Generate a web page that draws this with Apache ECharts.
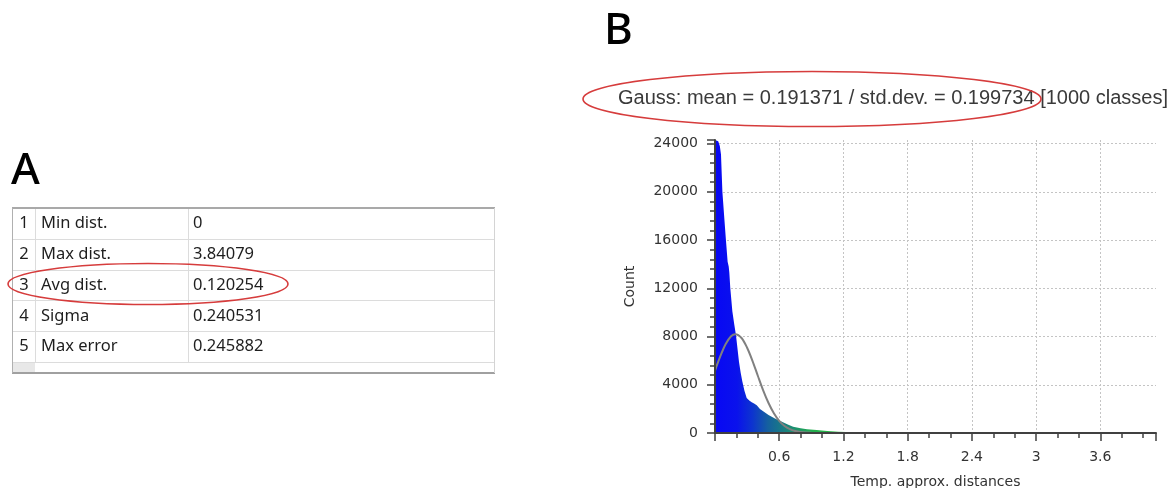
<!DOCTYPE html>
<html><head><meta charset="utf-8">
<script src="https://cdn.jsdelivr.net/npm/echarts@6/dist/echarts.min.js"></script>
<style>html,body{margin:0;padding:0;background:#fff}#c{width:1176px;height:488px}</style>
</head><body><div id="c"></div>
<script>
// ---- data ----
const distX = [0, 0.01, 0.03, 0.045, 0.056, 0.069, 0.087, 0.103, 0.118, 0.128, 0.134, 0.143, 0.162, 0.18, 0.196, 0.21, 0.224, 0.24, 0.255, 0.275, 0.296, 0.32, 0.343, 0.365, 0.39, 0.42, 0.46, 0.5, 0.56, 0.62, 0.68, 0.73, 0.8, 0.86, 0.95, 1.05, 1.15, 1.3, 1.5, 1.7, 2.0, 4.12];
const countY = [24300, 24300, 24200, 23800, 23100, 20000, 17800, 15900, 14200, 13800, 13300, 12000, 10100, 9000, 8100, 7000, 5900, 5000, 4300, 3500, 2900, 2700, 2550, 2450, 2300, 2000, 1750, 1500, 1200, 950, 700, 520, 400, 320, 240, 160, 100, 60, 30, 15, 5, 0];
const gaussX = [0, 0.05, 0.1, 0.15, 0.19, 0.25, 0.3, 0.35, 0.4, 0.45, 0.5, 0.55, 0.6, 0.65, 0.7, 0.75, 0.8, 0.85, 0.9];
const gaussY = [5180, 6380, 7380, 8030, 8200, 7860, 7070, 5990, 4750, 3540, 2490, 1640, 1010, 585, 320, 165, 80, 36, 15];
const rowNums = ['1', '2', '3', '4', '5'];
const statNames = ['Min dist.', 'Max dist.', 'Avg dist.', 'Sigma', 'Max error'];
const statValues = ['0', '3.84079', '0.120254', '0.240531', '0.245882'];
const titleText = 'Gauss: mean = 0.191371 / std.dev. = 0.199734 [1000 classes]';
const xName = 'Temp. approx. distances';
const yName = 'Count';
const panelLabels = ['A', 'B'];

const chart = echarts.init(document.getElementById('c'));
const histData = distX.map((x, i) => [x, countY[i]]);
const gaussData = gaussX.map((x, i) => [x, gaussY[i]]);

// ---- table (panel A) ----
const T = {left: 12, right: 495, top: 208, rowH: 30.8, colNum: 35, colVal: 188, bottom: 373};
const rowsEnd = T.top + T.rowH * rowNums.length;
const g = [];
g.push({type: 'rect', shape: {x: T.left, y: rowsEnd, width: T.colNum - T.left, height: T.bottom - rowsEnd}, style: {fill: '#e8e8e8'}});
for (let i = 1; i <= rowNums.length; i++) {
  const y = Math.round(T.top + i * T.rowH) + 0.5;
  g.push({type: 'line', shape: {x1: T.left, y1: y, x2: T.right, y2: y}, style: {stroke: '#dcdcdc', lineWidth: 1}});
}
[T.colNum, T.colVal].forEach(x => g.push({type: 'line', shape: {x1: x + 0.5, y1: T.top, x2: x + 0.5, y2: rowsEnd}, style: {stroke: '#dcdcdc', lineWidth: 1}}));
g.push({type: 'line', shape: {x1: T.left, y1: T.top, x2: T.right, y2: T.top}, style: {stroke: '#a9a9a9', lineWidth: 2}});
g.push({type: 'line', shape: {x1: T.left, y1: T.bottom, x2: T.right, y2: T.bottom}, style: {stroke: '#a0a0a0', lineWidth: 2}});
g.push({type: 'line', shape: {x1: T.left + 0.5, y1: T.top, x2: T.left + 0.5, y2: T.bottom}, style: {stroke: '#b0b0b0', lineWidth: 1}});
g.push({type: 'line', shape: {x1: T.right - 0.5, y1: T.top, x2: T.right - 0.5, y2: T.bottom}, style: {stroke: '#d4d4d4', lineWidth: 1}});
rowNums.forEach((n, i) => {
  const cy = T.top + (i + 0.5) * T.rowH;
  const st = {fontSize: 16.5, fontFamily: 'Noto Sans', fill: '#1e1e1e', verticalAlign: 'middle'};
  g.push({type: 'text', x: (T.left + T.colNum) / 2 + 0.5, y: cy, style: Object.assign({text: n, align: 'center'}, st)});
  g.push({type: 'text', x: T.colNum + 6, y: cy, style: Object.assign({text: statNames[i], align: 'left'}, st)});
  g.push({type: 'text', x: T.colVal + 5, y: cy, style: Object.assign({text: statValues[i], align: 'left'}, st)});
});
// red ellipse round row 3
g.push({type: 'ellipse', shape: {cx: 148, cy: 284, rx: 140, ry: 20.5}, style: {fill: 'transparent', stroke: '#d63c3c', lineWidth: 1.6}});
// panel letters
g.push({type: 'text', x: 11, y: 171, style: {text: panelLabels[0], fontSize: 44, fontFamily: 'Noto Sans', fontWeight: 500, fill: '#000', verticalAlign: 'middle'}});
g.push({type: 'text', x: 604, y: 31, style: {text: panelLabels[1], fontSize: 44, fontFamily: 'Noto Sans', fontWeight: 500, fill: '#000', verticalAlign: 'middle'}});
// title of panel B
g.push({type: 'text', x: 618, y: 98, style: {text: titleText, fontSize: 20, fontFamily: 'Liberation Sans', fill: '#3a3a3a', verticalAlign: 'middle'}});
g.push({type: 'ellipse', shape: {cx: 812, cy: 99, rx: 229, ry: 27.5}, style: {fill: 'transparent', stroke: '#d63c3c', lineWidth: 1.6}});

const labelFont = {fontFamily: 'DejaVu Sans', fontSize: 14, color: '#333'};
const gridLine = {show: true, showMinLine: false, showMaxLine: false, lineStyle: {color: '#c4c4c4', type: [2, 2], width: 1}};

chart.setOption({
  animation: false,
  backgroundColor: '#fff',
  graphic: g,
  grid: {left: 715, right: 20, top: 140, bottom: 55, containLabel: false, outerBoundsMode: 'none'},
  xAxis: [
    {type: 'value', min: 0, max: 4.12, interval: 0.6, axisLine: {show: false}, axisTick: {show: false}, axisLabel: {show: false}, splitLine: gridLine, z: 0},
    {type: 'value', min: 0, max: 4.12, interval: 0.6, position: 'bottom', z: 10,
      axisLine: {show: true, onZero: false, lineStyle: {color: '#404040', width: 2}},
      axisTick: {show: true, length: 8, lineStyle: {color: '#404040', width: 1.5}},
      minorTick: {show: true, splitNumber: 3, length: 5, lineStyle: {color: '#404040', width: 1.5}},
      axisLabel: Object.assign({showMinLabel: false, showMaxLabel: false, margin: 17, formatter: v => String(+v.toFixed(2))}, labelFont),
      splitLine: {show: false},
      name: xName, nameLocation: 'middle', nameGap: 42, nameTextStyle: labelFont}
  ],
  yAxis: [
    {type: 'value', min: 0, max: 24300, interval: 4000, axisLine: {show: false}, axisTick: {show: false}, axisLabel: {show: false}, splitLine: gridLine, z: 0},
    {type: 'value', min: 0, max: 24300, interval: 4000, position: 'left', z: 10,
      axisLine: {show: true, onZero: false, lineStyle: {color: '#404040', width: 2}},
      axisTick: {show: true, length: 8, lineStyle: {color: '#404040', width: 1.5}},
      minorTick: {show: true, splitNumber: 5, length: 5, lineStyle: {color: '#404040', width: 1.5}},
      axisLabel: Object.assign({showMaxLabel: false, margin: 17, formatter: v => String(v)}, labelFont),
      splitLine: {show: false},
      name: yName, nameLocation: 'middle', nameGap: 78, nameTextStyle: labelFont}
  ],
  series: [
    {type: 'line', xAxisIndex: 0, yAxisIndex: 0, data: histData, symbol: 'none', silent: true, z: 2,
      lineStyle: {width: 0},
      areaStyle: {opacity: 1, color: new echarts.graphic.LinearGradient(0, 0, 1, 0, [
        {offset: 0, color: '#0808f4'},
        {offset: 0.05, color: '#0a12ec'},
        {offset: 0.085, color: '#0d34cf'},
        {offset: 0.12, color: '#15609f'},
        {offset: 0.17, color: '#1b8a76'},
        {offset: 0.22, color: '#22ad4e'},
        {offset: 0.29, color: '#2abd40'},
        {offset: 1, color: '#2abd40'}
      ])}},
    {type: 'line', xAxisIndex: 0, yAxisIndex: 0, data: gaussData, symbol: 'none', smooth: 0.3, silent: true, z: 3,
      lineStyle: {color: '#808080', width: 2}}
  ]
});
</script></body></html>
